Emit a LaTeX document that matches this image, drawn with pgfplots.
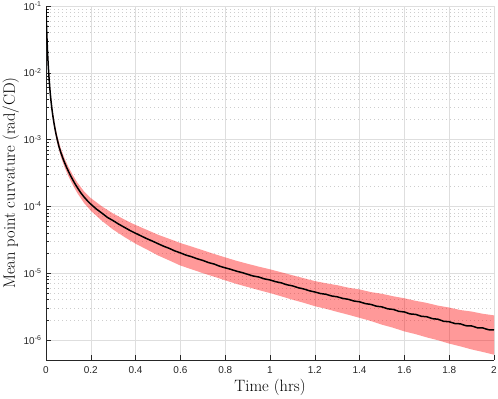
\documentclass[border=0pt]{standalone}
\usepackage{pgfplots}
\pgfplotsset{compat=1.18}
\usepackage{fontspec}
\newfontfamily\tickfont{Liberation Sans}
\definecolor{axcol}{RGB}{38,38,38}
\definecolor{gridcol}{RGB}{222,222,222}
\definecolor{minorgridcol}{RGB}{205,205,205}
\begin{document}
\begin{tikzpicture}
\useasboundingbox (-46bp,-39bp) rectangle (452bp,360bp);
\begin{axis}[
  scale only axis, width=448bp, height=354bp,
  ymode=log, xmin=0, xmax=2, ymin=5e-7, ymax=1e-1,
  axis x line*=bottom, axis y line*=left,
  axis line style={axcol, line width=0.5bp, -},
  tick align=inside,
  major tick length=5bp, minor tick length=3bp,
  every tick/.style={axcol, line width=0.5bp},
  xtick={0,0.2,0.4,0.6,0.8,1,1.2,1.4,1.6,1.8,2},
  xticklabels={0,0.2,0.4,0.6,0.8,1,1.2,1.4,1.6,1.8,2},
  ytick={1e-6,1e-5,1e-4,1e-3,1e-2,1e-1},
  yticklabels={10\textsuperscript{-6},10\textsuperscript{-5},10\textsuperscript{-4},10\textsuperscript{-3},10\textsuperscript{-2},10\textsuperscript{-1}},
  tick label style={font=\tickfont\fontsize{10}{11}\selectfont, text=axcol},
  xticklabel style={yshift=-3bp},
  yticklabel style={xshift=-1bp},
  xmajorgrids, ymajorgrids, yminorgrids,
  major grid style={gridcol, line width=0.5bp},
  minor grid style={minorgridcol, line width=0.5bp, dash pattern=on 0.7bp off 3.3bp},
  xlabel={Time (hrs)}, ylabel={Mean point curvature (rad/CD)},
  label style={font=\fontsize{16.5}{19}\selectfont, text=black},
  xlabel style={at={(axis description cs:0.5,-0.0876)}, anchor=base},
  ylabel style={at={(axis description cs:-0.0692,0.5)}, anchor=base},
]
% band (mean +/- std): upper edge forward, lower edge backward
\addplot[draw=none, fill=red, fill opacity=0.4] coordinates {
(0,0.097)(0.005,0.033)(0.01,0.0145)(0.02,0.0051)(0.03,0.00263)(0.04,0.00165)(0.05,0.00115)
(0.066,0.00074)(0.083,0.00052)(0.1,0.00039)(0.12,0.000292)(0.14,0.000227)(0.17,0.000167)(0.2,0.000133)
(0.25,9.95e-5)(0.3,7.8e-5)(0.35,6.35e-5)(0.4,5.25e-5)(0.45,4.45e-5)(0.5,3.76e-5)(0.55,3.26e-5)(0.6,2.82e-5)
(0.65,2.5e-5)(0.7,2.2e-5)(0.75,1.94e-5)(0.8,1.72e-5)(0.85,1.53e-5)(0.9,1.38e-5)(0.95,1.25e-5)(1.0,1.14e-5)
(1.05,1.03e-5)(1.1,9.3e-6)(1.15,8.4e-6)(1.2,7.6e-6)(1.25,7.05e-6)(1.3,6.6e-6)(1.35,6.05e-6)(1.4,5.7e-6)
(1.45,5.2e-6)(1.5,4.9e-6)(1.55,4.5e-6)(1.6,4.2e-6)(1.65,3.85e-6)(1.7,3.58e-6)(1.75,3.26e-6)(1.8,3.05e-6)
(1.85,2.8e-6)(1.9,2.66e-6)(1.95,2.46e-6)(2.0,2.33e-6)
(2.0,6.0e-7)(1.95,6.6e-7)(1.9,7.2e-7)(1.85,8.0e-7)(1.8,8.8e-7)(1.75,9.9e-7)(1.7,1.09e-6)(1.65,1.22e-6)
(1.6,1.34e-6)(1.55,1.52e-6)(1.5,1.69e-6)(1.45,1.92e-6)(1.4,2.14e-6)(1.35,2.38e-6)(1.3,2.63e-6)(1.25,2.92e-6)
(1.2,3.2e-6)(1.15,3.6e-6)(1.1,4.0e-6)(1.05,4.5e-6)(1.0,5.03e-6)(0.95,5.57e-6)(0.9,6.2e-6)(0.85,6.9e-6)
(0.8,7.8e-6)(0.75,8.85e-6)(0.7,1.0e-5)(0.65,1.14e-5)(0.6,1.3e-5)(0.55,1.55e-5)(0.5,1.84e-5)(0.45,2.26e-5)
(0.4,2.76e-5)(0.35,3.48e-5)(0.3,4.48e-5)(0.25,6.05e-5)(0.2,8.6e-5)(0.17,1.12e-4)(0.14,1.58e-4)(0.12,2.07e-4)
(0.1,2.83e-4)(0.083,3.85e-4)(0.066,5.55e-4)(0.05,8.8e-4)(0.04,1.28e-3)(0.03,2.06e-3)(0.02,4.0e-3)
(0.01,0.0114)(0.005,0.026)(0,0.084)
};
% mean
\addplot[black, line width=1.5bp] coordinates {
(0,0.09)(0.002,0.055)(0.004,0.0355)(0.006,0.0243)(0.008,0.0172)(0.01,0.0129)(0.0125,0.00944)(0.015,0.00716)
(0.018,0.00537)(0.022,0.00389)(0.026,0.00295)(0.03,0.00234)(0.035,0.00182)(0.04,0.00146)(0.045,0.0012)
(0.05,0.00101)(0.058,7.83e-4)(0.066,6.44e-4)(0.075,5.28e-4)(0.083,4.51e-4)(0.092,3.83e-4)(0.1,3.35e-4)
(0.11,2.86e-4)(0.12,2.48e-4)(0.13,2.16e-4)(0.14,1.91e-4)(0.155,1.6e-4)(0.17,1.38e-4)(0.185,1.21e-4)
(0.2,1.08e-4)(0.225,9.1e-5)(0.25,7.9e-5)(0.275,6.8e-5)(0.3,6.1e-5)(0.325,5.4e-5)(0.35,4.85e-5)(0.375,4.35e-5)
(0.4,3.95e-5)(0.425,3.6e-5)(0.45,3.28e-5)(0.475,3.02e-5)(0.5,2.76e-5)(0.525,2.53e-5)(0.55,2.35e-5)
(0.575,2.15e-5)(0.6,2.01e-5)(0.625,1.86e-5)(0.65,1.76e-5)(0.675,1.64e-5)(0.7,1.55e-5)(0.725,1.44e-5)
(0.75,1.37e-5)(0.775,1.27e-5)(0.8,1.2e-5)(0.825,1.14e-5)(0.85,1.07e-5)(0.875,1.02e-5)(0.9,9.6e-6)
(0.925,9.05e-6)(0.95,8.75e-6)(0.975,8.2e-6)(1.0,7.9e-6)(1.025,7.45e-6)(1.05,7.15e-6)(1.075,6.7e-6)
(1.1,6.45e-6)(1.125,6.05e-6)(1.15,5.8e-6)(1.175,5.45e-6)(1.2,5.22e-6)(1.225,4.95e-6)(1.25,4.82e-6)
(1.275,4.55e-6)(1.3,4.42e-6)(1.325,4.18e-6)(1.35,4.05e-6)(1.375,3.82e-6)(1.4,3.72e-6)(1.425,3.5e-6)
(1.45,3.4e-6)(1.475,3.2e-6)(1.5,3.12e-6)(1.525,2.92e-6)(1.55,2.86e-6)(1.575,2.68e-6)(1.6,2.62e-6)
(1.625,2.45e-6)(1.65,2.41e-6)(1.675,2.26e-6)(1.7,2.22e-6)(1.725,2.08e-6)(1.75,2.04e-6)(1.775,1.9e-6)
(1.8,1.87e-6)(1.825,1.76e-6)(1.85,1.74e-6)(1.875,1.63e-6)(1.9,1.62e-6)(1.925,1.52e-6)(1.95,1.51e-6)
(1.975,1.42e-6)(2.0,1.41e-6)
};
\end{axis}
\end{tikzpicture}
\end{document}
